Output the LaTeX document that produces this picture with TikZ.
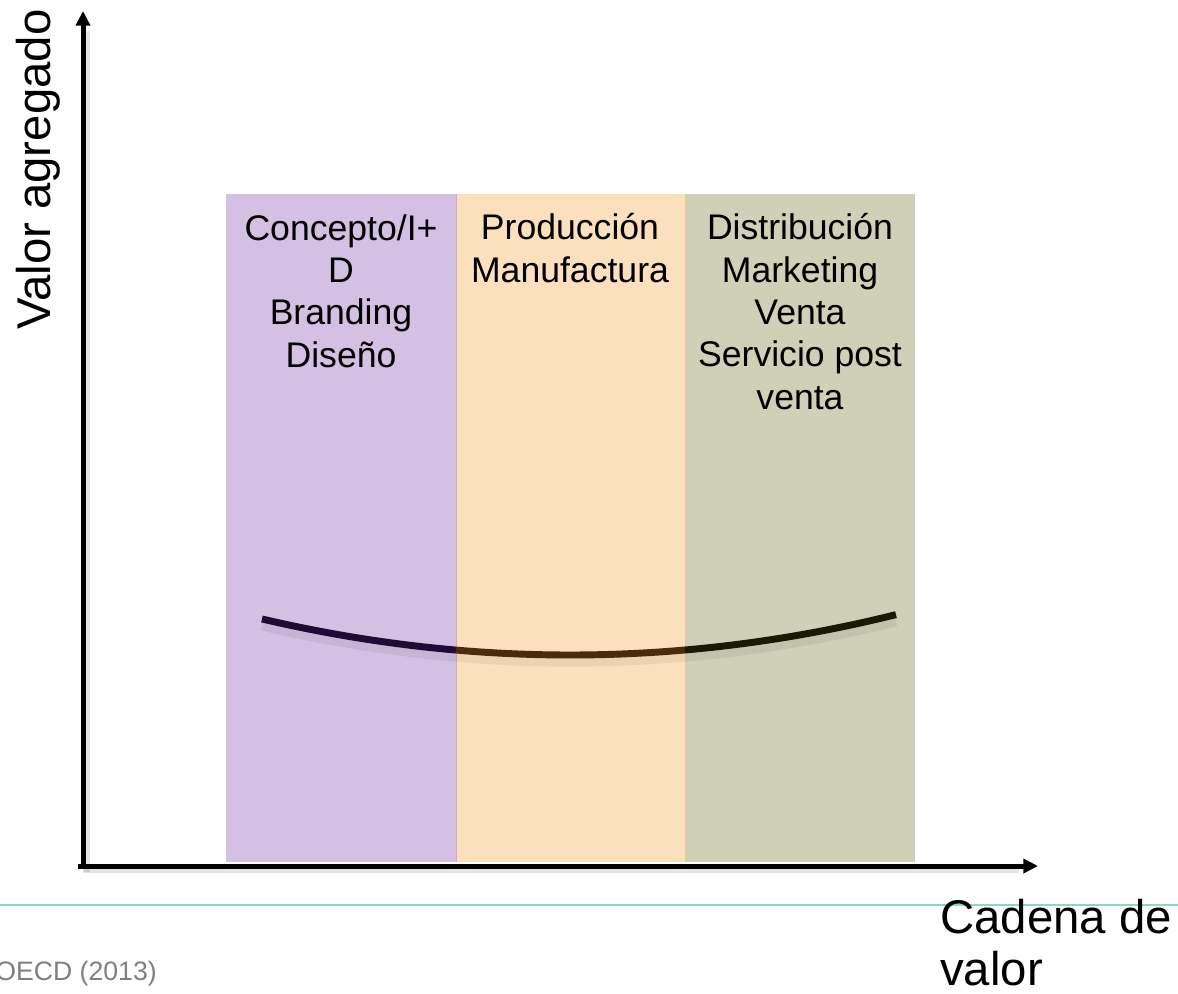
\documentclass[tikz,border=0pt]{standalone}
\usepackage{fontspec}
\setmainfont{Liberation Sans}
\usetikzlibrary{arrows.meta}
\definecolor{cpurple}{HTML}{D4C0E2}
\definecolor{corange}{HTML}{FCE0BE}
\definecolor{cgreen}{HTML}{CFD0B6}
\definecolor{cline}{HTML}{86DDB5}
\definecolor{cgray}{HTML}{808080}
\definecolor{curveA}{HTML}{200A36}
\definecolor{curveB}{HTML}{4A2C0C}
\definecolor{curveC}{HTML}{1A1A04}
\tikzset{
  axis/.style={line width=3.75pt, -{Triangle[length=11pt,width=10.5pt]}},
  axshadow/.style={line width=4.5pt, black, opacity=0.1, shorten >=8pt},
  boxtext/.style={align=center, anchor=base, inner sep=0pt, font=\fontsize{26.7}{31.7}\selectfont},
  biglabel/.style={inner sep=0pt, font=\fontsize{35.5}{39}\selectfont},
  curveseg/.style={line width=5.2pt}
}
\newcommand{\vac}[1]{655-3.8*((#1-570)/100)^2}
\begin{document}
\begin{tikzpicture}[x=0.75pt,y=-0.75pt]
\useasboundingbox (0,0) rectangle (1178,993);
% bands
\fill[cpurple] (226,194) rectangle (456,862);
\fill[corange] (456,194) rectangle (685,862);
\fill[cgreen] (685,194) rectangle (915,862);
\draw[line width=0.6pt, color={rgb,255:red,214;green,170;blue,190}] (456,194) -- (456,862);
\draw[line width=0.6pt, color={rgb,255:red,232;green,200;blue,150}] (685,194) -- (685,862);
% texts (anchor = baseline of last line)
\node[boxtext] (t1) at (341,367) {Concepto/I+\\D\\Branding\\Diseño};
\node[boxtext] (t2) at (570,282) {Producción\\Manufactura};
\node[boxtext] (t3) at (800,409) {Distribución\\Marketing\\Venta\\Servicio post\\venta};
% curve shadow
\draw[line width=7pt, black, opacity=0.06, line cap=butt] plot[domain=262:896, samples=60] (\x, {\vac{\x}+7});
% curve
\draw[curveseg, curveA] plot[domain=262:456, samples=30] (\x, {\vac{\x}});
\draw[curveseg, curveB] plot[domain=456:685, samples=30] (\x, {\vac{\x}});
\draw[curveseg, curveC] plot[domain=685:896, samples=30] (\x, {\vac{\x}});
% axes
\coordinate (o) at (83,866);
\coordinate (ytop) at (83,11);
\coordinate (xend) at (1038,866);
\draw[axshadow] (87,872) -- (87,20);
\draw[axshadow] (83,870) -- (1030,870);
\draw[axis] (83,868) -- (ytop);
\draw[axis] (78,866) -- (xend);
% green line
\draw[cline, line width=2pt] (0,905) -- (1178,905);
% labels
\node[biglabel, anchor=base west, rotate=90] (yl) at (50,330) {Valor agregado};
\node[biglabel, anchor=base west] (xl) at (940,933) {Cadena de};
\node[biglabel, anchor=base west] (xl2) at (940,985) {valor};
\node[inner sep=0pt, anchor=base west, text=cgray, font=\fontsize{20}{24}\selectfont] (src) at (-5,980) {OECD (2013)};
\end{tikzpicture}
\end{document}
